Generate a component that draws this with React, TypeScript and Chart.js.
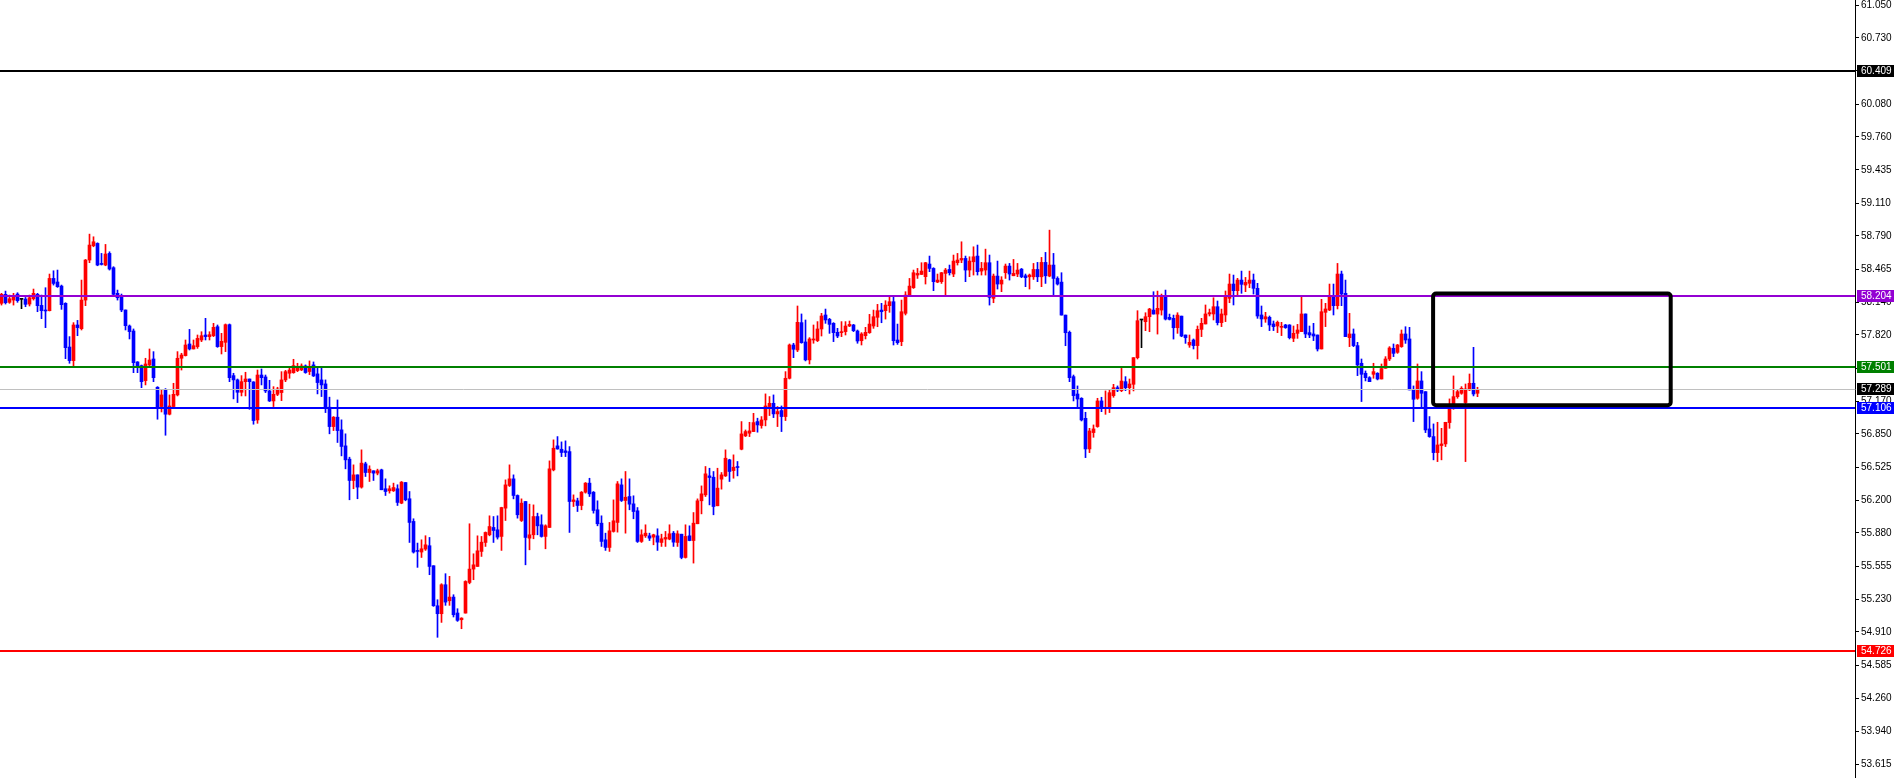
import React, { useEffect, useRef } from 'react';
import { Chart, registerables } from 'chart.js';

Chart.register(...registerables);

// ---- OHLC data (one candle per bar, oldest first) ----
const opens = [
  58.129, 58.217, 58.139, 58.161, 58.220, 58.168, 58.171, 58.122, 58.174, 58.217,
  58.109, 58.064, 58.057, 58.373, 58.338, 58.298, 58.129, 57.701, 57.568, 57.917,
  57.881, 58.161, 58.553, 58.693, 58.716, 58.520, 58.504, 58.618, 58.478, 58.227,
  58.201, 58.064, 57.907, 57.858, 57.555, 57.519, 57.372, 57.525, 57.584, 57.307,
  57.118, 57.287, 57.043, 57.118, 57.232, 57.591, 57.617, 57.731, 57.682, 57.705,
  57.770, 57.819, 57.803, 57.812, 57.900, 57.705, 57.747, 57.920, 57.421, 57.379,
  57.258, 57.362, 57.388, 57.359, 56.987, 57.427, 57.408, 57.271, 57.173, 57.238,
  57.255, 57.379, 57.444, 57.450, 57.470, 57.477, 57.516, 57.461, 57.526, 57.438,
  57.379, 57.340, 57.112, 56.922, 57.014, 56.890, 56.733, 56.603, 56.394, 56.449,
  56.329, 56.557, 56.472, 56.489, 56.466, 56.498, 56.313, 56.293, 56.293, 56.313,
  56.172, 56.374, 56.215, 55.993, 55.709, 55.693, 55.722, 55.755, 55.559, 55.167,
  55.089, 55.373, 55.216, 55.252, 55.096, 55.030, 55.095, 55.395, 55.526, 55.552,
  55.699, 55.787, 55.862, 55.934, 55.911, 55.846, 56.123, 56.345, 56.410, 56.247,
  56.002, 56.188, 55.829, 55.862, 56.041, 55.960, 55.846, 55.934, 56.498, 56.733,
  56.700, 56.684, 56.677, 56.188, 56.195, 56.149, 56.279, 56.368, 56.279, 56.107,
  55.976, 55.813, 55.738, 55.895, 55.983, 56.351, 56.198, 56.237, 56.165, 56.097,
  55.797, 55.852, 55.852, 55.839, 55.852, 55.787, 55.820, 55.820, 55.878, 55.787,
  55.868, 55.640, 55.852, 55.806, 55.970, 56.195, 56.253, 56.439, 56.426, 56.146,
  56.407, 56.439, 56.596, 56.491, 56.527, 56.700, 56.831, 56.857, 56.873, 56.971,
  56.932, 56.987, 57.118, 57.150, 57.046, 57.079, 57.020, 57.395, 57.721, 57.672,
  57.940, 57.751, 57.575, 57.770, 57.764, 57.878, 58.015, 57.972, 57.933, 57.845,
  57.842, 57.852, 57.907, 57.917, 57.858, 57.763, 57.812, 57.842, 57.907, 57.992,
  58.063, 58.057, 58.106, 58.145, 57.770, 57.754, 58.031, 58.210, 58.282, 58.406,
  58.412, 58.390, 58.514, 58.471, 58.337, 58.341, 58.422, 58.461, 58.416, 58.527,
  58.553, 58.569, 58.455, 58.536, 58.592, 58.445, 58.455, 58.527, 58.178, 58.396,
  58.318, 58.429, 58.494, 58.399, 58.416, 58.464, 58.399, 58.389, 58.389, 58.461,
  58.389, 58.530, 58.396, 58.504, 58.373, 58.337, 58.014, 57.845, 57.411, 57.241,
  57.199, 57.003, 56.703, 56.863, 56.922, 57.173, 57.101, 57.101, 57.225, 57.303,
  57.274, 57.362, 57.303, 57.336, 57.597, 57.966, 57.949, 57.998, 58.063, 58.024,
  58.063, 58.200, 57.992, 57.982, 57.890, 58.004, 57.819, 57.721, 57.770, 57.715,
  57.874, 57.927, 58.025, 58.025, 58.096, 57.940, 58.015, 58.178, 58.318, 58.253,
  58.357, 58.308, 58.325, 58.357, 58.276, 58.015, 57.976, 57.992, 57.927, 57.907,
  57.894, 57.917, 57.917, 57.786, 57.835, 57.852, 58.025, 57.842, 57.829, 57.819,
  57.682, 58.041, 58.064, 58.201, 58.106, 58.416, 58.227, 57.793, 57.829, 57.715,
  57.542, 57.444, 57.401, 57.434, 57.444, 57.388, 57.493, 57.584, 57.688, 57.649,
  57.705, 57.829, 57.780, 57.281, 57.199, 57.369, 57.264, 56.899, 56.824, 56.667,
  56.736, 56.752, 56.961, 57.111, 57.215, 57.248, 57.157, 57.281, 57.346, 57.248,
];

const highs = [
  58.227, 58.249, 58.210, 58.227, 58.233, 58.174, 58.187, 58.210, 58.269, 58.227,
  58.210, 58.282, 58.416, 58.448, 58.455, 58.308, 58.135, 57.803, 57.940, 57.962,
  58.357, 58.559, 58.807, 58.781, 58.722, 58.618, 58.706, 58.634, 58.488, 58.259,
  58.220, 58.064, 57.917, 57.878, 57.558, 57.525, 57.591, 57.682, 57.656, 57.313,
  57.287, 57.294, 57.232, 57.346, 57.656, 57.640, 57.770, 57.874, 57.770, 57.819,
  57.851, 57.982, 57.851, 57.933, 57.917, 57.835, 57.927, 57.927, 57.444, 57.388,
  57.421, 57.454, 57.388, 57.362, 57.476, 57.486, 57.427, 57.375, 57.313, 57.307,
  57.460, 57.473, 57.493, 57.581, 57.542, 57.536, 57.526, 57.565, 57.555, 57.493,
  57.493, 57.379, 57.210, 57.020, 57.183, 56.988, 56.851, 56.622, 56.547, 56.449,
  56.694, 56.573, 56.538, 56.489, 56.505, 56.505, 56.410, 56.342, 56.368, 56.352,
  56.384, 56.374, 56.286, 56.019, 55.781, 55.813, 55.853, 55.836, 55.559, 55.226,
  55.383, 55.481, 55.455, 55.275, 55.138, 55.050, 55.412, 55.970, 55.676, 55.852,
  55.846, 55.890, 56.048, 56.041, 56.048, 56.132, 56.400, 56.547, 56.449, 56.253,
  56.214, 56.188, 56.162, 56.155, 56.074, 56.058, 55.960, 56.586, 56.792, 56.824,
  56.772, 56.782, 56.726, 56.253, 56.221, 56.286, 56.374, 56.416, 56.286, 56.195,
  56.048, 55.878, 55.983, 56.204, 56.384, 56.410, 56.482, 56.410, 56.244, 56.129,
  55.911, 55.960, 55.878, 55.868, 55.921, 55.868, 55.895, 55.960, 55.895, 55.901,
  55.868, 55.960, 55.950, 56.080, 56.214, 56.341, 56.531, 56.514, 56.482, 56.514,
  56.472, 56.694, 56.602, 56.645, 56.580, 56.971, 56.889, 56.964, 57.052, 57.004,
  57.020, 57.242, 57.216, 57.232, 57.118, 57.124, 57.460, 57.731, 57.738, 58.103,
  58.025, 57.966, 57.793, 57.917, 57.950, 58.031, 58.073, 57.982, 57.940, 57.884,
  57.950, 57.950, 57.956, 57.923, 57.868, 57.842, 57.894, 58.021, 58.063, 58.119,
  58.129, 58.155, 58.194, 58.194, 57.926, 58.161, 58.243, 58.373, 58.455, 58.471,
  58.527, 58.530, 58.592, 58.478, 58.416, 58.432, 58.471, 58.504, 58.602, 58.618,
  58.732, 58.592, 58.585, 58.683, 58.700, 58.530, 58.660, 58.602, 58.416, 58.543,
  58.390, 58.514, 58.520, 58.559, 58.520, 58.471, 58.416, 58.416, 58.520, 58.530,
  58.579, 58.628, 58.846, 58.618, 58.389, 58.429, 58.014, 57.858, 57.427, 57.320,
  57.205, 57.062, 56.905, 56.938, 57.199, 57.209, 57.271, 57.280, 57.336, 57.320,
  57.492, 57.411, 57.388, 57.597, 58.057, 57.972, 58.037, 58.080, 58.243, 58.249,
  58.220, 58.259, 58.024, 58.014, 58.037, 58.004, 57.819, 57.819, 57.780, 57.907,
  57.982, 58.113, 58.073, 58.184, 58.152, 58.073, 58.250, 58.416, 58.406, 58.374,
  58.445, 58.383, 58.445, 58.416, 58.325, 58.103, 58.041, 58.005, 57.956, 57.956,
  57.943, 57.923, 57.920, 57.907, 57.923, 58.201, 58.025, 57.907, 57.933, 57.819,
  58.168, 58.129, 58.318, 58.318, 58.520, 58.445, 58.357, 58.031, 57.878, 57.747,
  57.584, 57.467, 57.411, 57.542, 57.450, 57.535, 57.607, 57.705, 57.731, 57.727,
  57.868, 57.900, 57.894, 57.320, 57.535, 57.460, 57.264, 57.020, 56.948, 56.964,
  56.905, 56.964, 57.193, 57.418, 57.281, 57.313, 57.339, 57.437, 57.698, 57.307,
];

const lows = [
  58.112, 58.122, 58.129, 58.112, 58.139, 58.077, 58.096, 58.103, 58.161, 58.047,
  57.979, 57.891, 58.054, 58.308, 58.285, 58.070, 57.587, 57.542, 57.509, 57.812,
  57.868, 58.106, 58.527, 58.683, 58.497, 58.504, 58.497, 58.455, 58.204, 58.161,
  58.047, 57.868, 57.780, 57.450, 57.450, 57.303, 57.330, 57.516, 57.362, 56.994,
  57.065, 56.837, 57.036, 57.111, 57.222, 57.476, 57.613, 57.672, 57.682, 57.688,
  57.754, 57.770, 57.770, 57.803, 57.698, 57.633, 57.656, 57.362, 57.193, 57.157,
  57.222, 57.222, 57.091, 56.945, 56.954, 57.330, 57.255, 57.167, 57.118, 57.225,
  57.176, 57.362, 57.395, 57.444, 57.460, 57.470, 57.444, 57.431, 57.412, 57.242,
  57.216, 57.059, 56.851, 56.883, 56.766, 56.635, 56.508, 56.205, 56.313, 56.215,
  56.319, 56.433, 56.384, 56.394, 56.449, 56.303, 56.247, 56.270, 56.286, 56.149,
  56.166, 56.195, 55.787, 55.683, 55.543, 55.640, 55.709, 55.471, 55.161, 54.858,
  55.004, 55.171, 55.171, 55.057, 55.014, 54.942, 55.095, 55.382, 55.422, 55.552,
  55.650, 55.748, 55.852, 55.787, 55.820, 55.709, 56.002, 56.335, 56.214, 56.025,
  55.992, 55.568, 55.715, 55.823, 55.862, 55.839, 55.725, 55.934, 56.488, 56.700,
  56.628, 56.628, 55.885, 56.139, 56.090, 56.107, 56.270, 56.237, 56.074, 55.950,
  55.748, 55.709, 55.699, 55.888, 55.888, 56.188, 55.878, 56.107, 56.019, 55.787,
  55.787, 55.836, 55.806, 55.764, 55.709, 55.748, 55.748, 55.813, 55.748, 55.748,
  55.627, 55.634, 55.803, 55.585, 55.970, 56.067, 56.237, 56.155, 56.058, 56.146,
  56.309, 56.433, 56.384, 56.416, 56.439, 56.694, 56.824, 56.824, 56.873, 56.867,
  56.906, 56.929, 57.030, 57.010, 56.922, 56.873, 56.981, 57.388, 57.597, 57.656,
  57.738, 57.565, 57.535, 57.738, 57.754, 57.809, 57.933, 57.835, 57.754, 57.793,
  57.803, 57.819, 57.901, 57.852, 57.738, 57.721, 57.780, 57.835, 57.884, 57.900,
  57.939, 57.975, 58.041, 57.721, 57.727, 57.714, 58.015, 58.200, 58.275, 58.373,
  58.412, 58.318, 58.439, 58.253, 58.331, 58.324, 58.210, 58.406, 58.390, 58.504,
  58.527, 58.341, 58.390, 58.406, 58.406, 58.406, 58.406, 58.112, 58.135, 58.269,
  58.243, 58.373, 58.357, 58.399, 58.390, 58.380, 58.292, 58.269, 58.363, 58.341,
  58.292, 58.324, 58.389, 58.210, 58.308, 58.014, 57.714, 57.362, 57.173, 57.117,
  56.977, 56.618, 56.667, 56.817, 56.915, 57.068, 57.042, 57.059, 57.209, 57.264,
  57.264, 57.274, 57.241, 57.271, 57.584, 57.695, 57.861, 57.851, 58.024, 57.828,
  58.014, 57.966, 57.966, 57.779, 57.835, 57.802, 57.737, 57.698, 57.682, 57.584,
  57.803, 57.927, 58.005, 57.966, 57.917, 57.901, 57.950, 58.135, 58.113, 58.211,
  58.227, 58.243, 58.282, 58.220, 57.982, 57.901, 57.943, 57.862, 57.862, 57.842,
  57.813, 57.884, 57.780, 57.754, 57.786, 57.852, 57.793, 57.793, 57.764, 57.662,
  57.682, 57.901, 58.057, 58.015, 58.074, 58.106, 57.803, 57.705, 57.705, 57.421,
  57.167, 57.369, 57.362, 57.395, 57.379, 57.388, 57.493, 57.568, 57.607, 57.639,
  57.698, 57.737, 57.281, 56.971, 57.189, 57.111, 56.863, 56.817, 56.596, 56.579,
  56.596, 56.726, 56.905, 57.091, 57.199, 57.238, 56.579, 57.274, 57.222, 57.215,
];

const closes = [
  58.217, 58.135, 58.174, 58.201, 58.155, 58.168, 58.119, 58.184, 58.227, 58.106,
  58.057, 58.054, 58.373, 58.324, 58.292, 58.116, 57.695, 57.568, 57.917, 57.891,
  58.161, 58.553, 58.700, 58.732, 58.504, 58.510, 58.612, 58.465, 58.217, 58.184,
  58.064, 57.910, 57.852, 57.548, 57.509, 57.362, 57.535, 57.574, 57.401, 57.111,
  57.232, 57.043, 57.124, 57.238, 57.591, 57.623, 57.721, 57.682, 57.714, 57.786,
  57.812, 57.803, 57.822, 57.894, 57.705, 57.757, 57.920, 57.401, 57.379, 57.258,
  57.362, 57.388, 57.362, 56.981, 57.427, 57.401, 57.271, 57.173, 57.238, 57.290,
  57.379, 57.460, 57.476, 57.519, 57.493, 57.516, 57.451, 57.500, 57.418, 57.353,
  57.330, 57.102, 56.922, 57.014, 56.883, 56.727, 56.596, 56.394, 56.449, 56.329,
  56.564, 56.472, 56.505, 56.466, 56.489, 56.303, 56.286, 56.313, 56.325, 56.179,
  56.378, 56.205, 55.983, 55.693, 55.699, 55.725, 55.764, 55.552, 55.167, 55.089,
  55.373, 55.203, 55.252, 55.079, 55.024, 55.046, 55.405, 55.526, 55.568, 55.705,
  55.790, 55.885, 55.943, 55.904, 55.839, 56.129, 56.351, 56.410, 56.247, 56.058,
  56.172, 55.836, 55.862, 56.041, 55.950, 55.846, 55.950, 56.508, 56.710, 56.703,
  56.668, 56.668, 56.188, 56.204, 56.149, 56.279, 56.368, 56.263, 56.100, 55.970,
  55.797, 55.738, 55.901, 55.999, 56.361, 56.198, 56.230, 56.162, 56.090, 55.797,
  55.862, 55.878, 55.829, 55.862, 55.790, 55.823, 55.836, 55.872, 55.790, 55.872,
  55.640, 55.846, 55.806, 55.976, 56.195, 56.263, 56.459, 56.423, 56.139, 56.319,
  56.449, 56.612, 56.482, 56.524, 56.521, 56.850, 56.873, 56.880, 56.961, 56.938,
  56.987, 57.124, 57.150, 57.046, 57.069, 57.020, 57.395, 57.721, 57.679, 57.943,
  57.744, 57.575, 57.780, 57.780, 57.878, 58.005, 57.966, 57.923, 57.842, 57.809,
  57.852, 57.907, 57.923, 57.861, 57.760, 57.829, 57.845, 57.926, 57.998, 58.057,
  58.047, 58.112, 58.145, 57.763, 57.744, 58.047, 58.210, 58.298, 58.429, 58.422,
  58.445, 58.527, 58.471, 58.341, 58.357, 58.429, 58.455, 58.429, 58.543, 58.553,
  58.569, 58.455, 58.543, 58.585, 58.439, 58.471, 58.527, 58.187, 58.396, 58.318,
  58.357, 58.494, 58.416, 58.422, 58.455, 58.389, 58.380, 58.406, 58.461, 58.389,
  58.530, 58.399, 58.504, 58.373, 58.318, 58.014, 57.841, 57.401, 57.225, 57.192,
  56.987, 56.703, 56.879, 56.899, 57.173, 57.111, 57.111, 57.254, 57.303, 57.280,
  57.368, 57.303, 57.339, 57.597, 57.959, 57.966, 57.998, 58.073, 58.024, 58.080,
  58.200, 57.975, 57.972, 57.890, 58.014, 57.809, 57.792, 57.747, 57.715, 57.874,
  57.933, 58.025, 58.038, 58.096, 57.940, 58.025, 58.201, 58.318, 58.253, 58.357,
  58.315, 58.334, 58.357, 58.276, 58.005, 57.976, 57.998, 57.917, 57.901, 57.943,
  57.901, 57.891, 57.793, 57.835, 57.868, 58.025, 57.829, 57.819, 57.809, 57.682,
  58.047, 58.074, 58.201, 58.106, 58.416, 58.220, 57.803, 57.829, 57.715, 57.525,
  57.434, 57.401, 57.362, 57.460, 57.388, 57.490, 57.584, 57.692, 57.639, 57.721,
  57.829, 57.770, 57.281, 57.189, 57.369, 57.248, 56.889, 56.824, 56.667, 56.742,
  56.752, 56.964, 57.111, 57.215, 57.264, 57.297, 57.290, 57.346, 57.241, 57.287,
];

// ---- axes ----
const xMin = -0.375;
const xMax = 463.375;
const yMin = 53.48;
const yMax = 61.1;
const yTickValues = [
  61.05, 60.73, 60.405, 60.08, 59.76, 59.435, 59.11, 58.79, 58.465, 58.14, 57.82, 57.495,
  57.17, 56.85, 56.525, 56.2, 55.88, 55.555, 55.23, 54.91, 54.585, 54.26, 53.94, 53.615,
];

// ---- horizontal price levels ----
const levelValues = [57.289, 60.409, 58.204, 57.501, 57.106, 54.726];
const levelLineColors = ['#c0c0c0', '#000000', '#9400d3', '#008000', '#0000ff', '#ff0000'];
const levelLabelColors = ['#000000', '#000000', '#9400d3', '#008000', '#0000ff', '#ff0000'];
const levelLineWidths = [1, 2, 2, 2, 2, 2];

// ---- rectangle zone (bar index range, price range) ----
const zoneStart = 357.9;
const zoneEnd = 417.3;
const zoneHigh = 58.226;
const zoneLow = 57.132;

const UP = '#ff0000';
const DOWN = '#0000ff';
const FLAT = '#000000';
const FONT = '"Liberation Sans", Arial, sans-serif';
const FONT_SIZE = 10;

const overlayPlugin = {
  id: 'overlay',
  afterDatasetsDraw(chart: any) {
    const { ctx, chartArea, scales } = chart;
    const x = scales.x;
    const y = scales.y;
    ctx.save();
    levelValues.forEach((v, i) => {
      const py = y.getPixelForValue(v);
      const w = levelLineWidths[i];
      const yy = w % 2 === 1 ? Math.round(py) + 0.5 : Math.round(py);
      ctx.beginPath();
      ctx.strokeStyle = levelLineColors[i];
      ctx.lineWidth = w;
      ctx.moveTo(chartArea.left, yy);
      ctx.lineTo(chartArea.right, yy);
      ctx.stroke();
    });
    const x0 = x.getPixelForValue(zoneStart);
    const x1 = x.getPixelForValue(zoneEnd);
    const y0 = y.getPixelForValue(zoneHigh);
    const y1 = y.getPixelForValue(zoneLow);
    ctx.beginPath();
    ctx.strokeStyle = '#000000';
    ctx.lineWidth = 4;
    ctx.lineJoin = 'round';
    if ((ctx as any).roundRect) {
      (ctx as any).roundRect(x0, y0, x1 - x0, y1 - y0, 3);
    } else {
      ctx.rect(x0, y0, x1 - x0, y1 - y0);
    }
    ctx.stroke();
    ctx.restore();
  },
  afterDraw(chart: any) {
    const { ctx, chartArea, scales } = chart;
    const y = scales.y;
    ctx.save();
    ctx.font = `${FONT_SIZE}px ${FONT}`;
    ctx.textBaseline = 'middle';
    ctx.textAlign = 'left';
    levelValues.forEach((v, i) => {
      const py = Math.round(y.getPixelForValue(v));
      ctx.fillStyle = levelLabelColors[i];
      ctx.fillRect(chartArea.right + 2, py - 6, 37, 12);
      ctx.fillStyle = '#ffffff';
      ctx.fillText(v.toFixed(3), chartArea.right + 6, py + 0.5);
    });
    ctx.restore();
  },
};

export default function App() {
  const ref = useRef<HTMLCanvasElement>(null);

  useEffect(() => {
    if (!ref.current) return;
    const idx = opens.map((_, i) => i);
    const colors = idx.map((i) =>
      closes[i] > opens[i] ? UP : closes[i] < opens[i] ? DOWN : FLAT
    );
    const chart = new Chart(ref.current, {
      type: 'bar',
      data: {
        datasets: [
          {
            label: 'body',
            data: idx.map((i) => ({ x: i, y: [opens[i], closes[i]] })) as any,
            backgroundColor: colors,
            borderWidth: 0,
            barThickness: 3,
            minBarLength: 1,
            grouped: false,
          } as any,
          {
            label: 'wick',
            data: idx.map((i) => ({ x: i, y: [lows[i], highs[i]] })) as any,
            backgroundColor: colors,
            borderWidth: 0,
            barThickness: 1,
            minBarLength: 1,
            grouped: false,
          } as any,
        ],
      },
      options: {
        animation: false,
        responsive: false,
        devicePixelRatio: 1,
        events: [],
        layout: { padding: 0 },
        plugins: {
          legend: { display: false },
          tooltip: { enabled: false },
        },
        scales: {
          x: {
            type: 'linear',
            min: xMin,
            max: xMax,
            offset: false,
            bounds: 'data',
            grace: 0,
            display: false,
            grid: { offset: false },
            afterDataLimits: (scale: any) => {
              scale.min = xMin;
              scale.max = xMax;
            },
            afterBuildTicks: (scale: any) => {
              scale.ticks = [{ value: xMin }, { value: xMax }];
              scale.min = xMin;
              scale.max = xMax;
            },
          },
          y: {
            type: 'linear',
            position: 'right',
            min: yMin,
            max: yMax,
            afterBuildTicks: (scale: any) => {
              scale.ticks = yTickValues.map((v) => ({ value: v }));
              scale.min = yMin;
              scale.max = yMax;
            },
            afterFit: (scale: any) => {
              scale.width = 43;
              scale.paddingTop = 0;
              scale.paddingBottom = 0;
            },
            border: { display: true, color: '#000000', width: 1 },
            grid: {
              drawOnChartArea: false,
              drawTicks: true,
              tickLength: 4,
              color: '#000000',
            },
            ticks: {
              autoSkip: false,
              padding: 2,
              color: '#000000',
              font: { size: FONT_SIZE, family: FONT },
              callback: (v: any) => Number(v).toFixed(3),
            },
          },
        },
      } as any,
      plugins: [overlayPlugin],
    });
    return () => chart.destroy();
  }, []);

  return (
    <div
      style={{
        position: 'fixed',
        left: 0,
        top: 0,
        width: 1898,
        height: 778,
        background: '#ffffff',
      }}
    >
      <canvas ref={ref} width={1898} height={778} style={{ width: 1898, height: 778 }} />
    </div>
  );
}
